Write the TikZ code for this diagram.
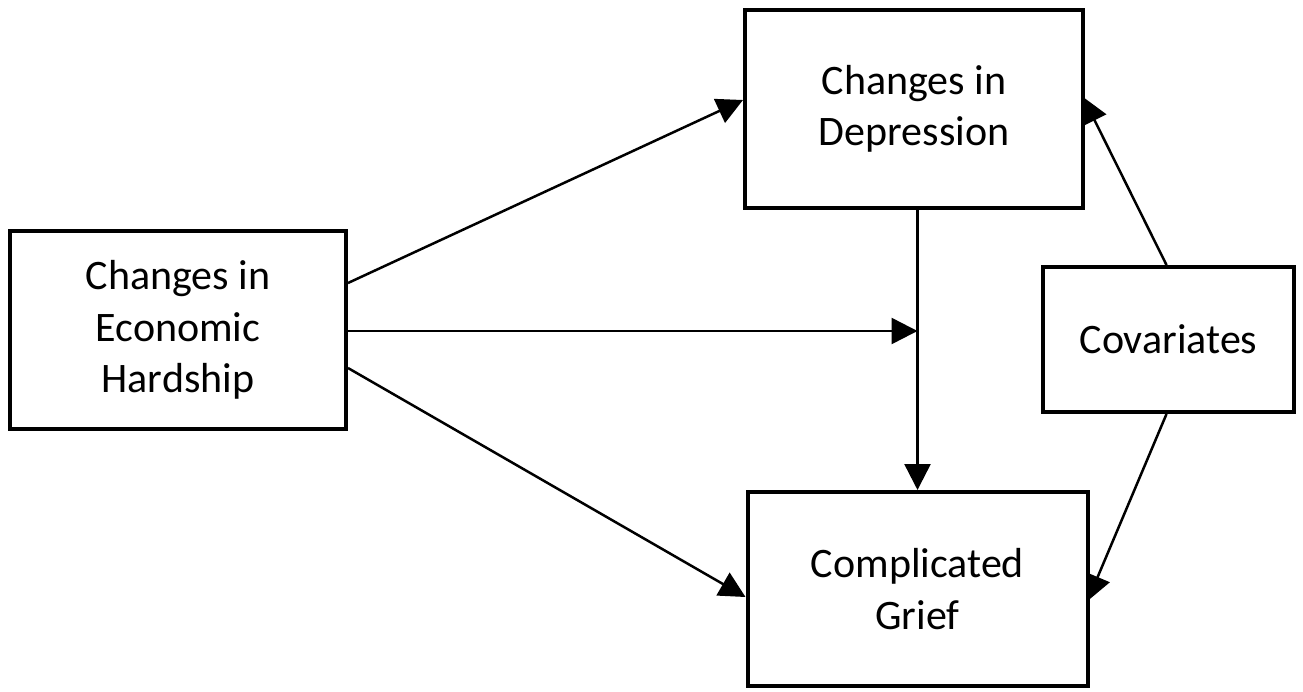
\documentclass[tikz,border=0pt]{standalone}
\usepackage{fontspec}
\setmainfont{Carlito}
\usetikzlibrary{arrows.meta,calc,backgrounds}
\begin{document}
\begin{tikzpicture}[x=1pt,y=-1pt,
  box/.style={draw=black,fill=white,line width=4pt,inner sep=0pt,align=center,
    font=\fontsize{42}{51.5}\selectfont},
  conn/.style={line width=2.5pt,-{Triangle[length=26pt,width=26pt]}}]
\useasboundingbox (0,0) rectangle (1303,691);
\node[box,minimum width=336pt,minimum height=198pt] (A) at (178,330) {Changes in\\Economic\\Hardship};
\node[box,minimum width=338pt,minimum height=198pt] (D) at (914,109) {Changes in\\Depression};
\node[box,minimum width=340pt,minimum height=194pt] (G) at (917.5,589) {Complicated\\Grief};
\node[box,minimum width=251pt,minimum height=145pt] (C) at (1168.5,339.5) {Covariates};
\coordinate (m) at ($(A.east -| G.north)+(0,1)$);
\begin{scope}[on background layer]
\draw[conn] ($(A.east)+(0,-47)$) -- ($(D.west)+(0,-9)$);
\draw[conn] ($(A.east)+(0,1)$) -- (m);
\draw[conn] ($(A.east)+(0,38)$) -- ($(G.west)+(0,8)$);
\draw[conn] (D.south -| G.north) -- (G.north);
\draw[conn] ($(C.north)+(-2,0)$) -- ($(D.east)+(-2,-12)$);
\draw[conn] ($(C.south)+(-2,0)$) -- ($(G.east)+(-2,12)$);
\end{scope}
\end{tikzpicture}
\end{document}
